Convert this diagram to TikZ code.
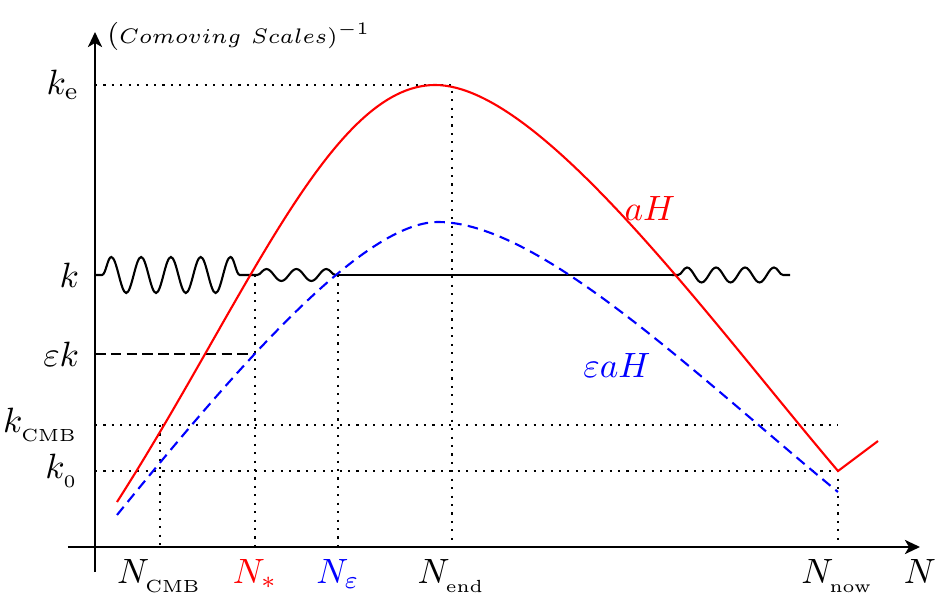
\documentclass[tikz,border=0pt]{standalone}
\usepackage{amsmath}
\usepackage{amssymb}
\usepackage{xcolor}
\usepackage{tikz}
\usetikzlibrary{arrows.meta, positioning, calc, decorations.pathmorphing}
\definecolor{horizonred}{RGB}{255, 0, 0}
\definecolor{horizonblue}{RGB}{0, 0, 255}
\tikzstyle{axis} = [thick, -{Stealth[length=1.5mm, width=1.4mm, inset=0.4mm]}]
\tikzstyle{guide} = [semithick, dash pattern=on 0.6pt off 1.8pt]
\tikzstyle{hubble} = [semithick, horizonred]
\tikzstyle{epshubble} = [semithick, horizonblue, dash pattern=on 3pt off 1.8pt]
\tikzstyle{mode} = [semithick]
\tikzstyle{wave} = [semithick, decorate]

\begin{document}
\begin{tikzpicture}
    \useasboundingbox (-0.95, -0.45) rectangle (8.41, 5.47);

    % Key levels and times
    \coordinate (ke) at (0, 4.62);
    \coordinate (kk) at (0, 2.72);
    \coordinate (ek) at (0, 1.93);
    \coordinate (kcmb) at (0, 1.22);
    \coordinate (kzero) at (0, 0.76);
    \coordinate (ncmb) at (0.65, 0);
    \coordinate (nstar) at (1.60, 0);
    \coordinate (neps) at (2.43, 0);
    \coordinate (nend) at (3.57, 0);
    \coordinate (nnow) at (7.43, 0);

    % Guide lines
    \draw[guide] (ke) -- (nend |- ke) -- (nend);
    \draw[guide] (kcmb) -- (nnow |- kcmb);
    \draw[guide] (kzero) -- (nnow |- kzero) -- (nnow);
    \draw[guide] (ncmb |- kcmb) -- (ncmb);
    \draw[guide] (nstar |- kk) -- (nstar);
    \draw[guide] (neps |- kk) -- (neps);
    \draw[mode, dash pattern=on 3pt off 1.5pt] (ek) -- (nstar |- ek);

    % Mode k: oscillating, frozen, re-entering
    \draw[wave, decoration={snake, amplitude=0.18cm, segment length=0.298cm, pre length=0.07cm}] (kk) -- (1.57, 2.72);
    \draw[wave, decoration={snake, amplitude=0.06cm, segment length=0.30cm, pre length=0.05cm}] (1.57, 2.72) -- (2.43, 2.72);
    \draw[mode] (2.43, 2.72) -- (5.77, 2.72);
    \draw[wave, decoration={snake, amplitude=0.075cm, segment length=0.29cm, pre length=0.06cm}] (5.77, 2.72) -- (6.95, 2.72);

    % Comoving Hubble radius
    \draw[hubble] (0.22, 0.45) .. controls (1.50, 2.45) and (2.35, 4.62) .. (3.40, 4.62)
        .. controls (4.45, 4.62) and (6.13, 2.29) .. (7.43, 0.76) -- (7.83, 1.06);
    \node[horizonred] (ahlabel) at (5.55, 3.39) {$aH$};

    \draw[epshubble] (0.22, 0.32) .. controls (1.32, 1.67) and (2.65, 3.25) .. (3.43, 3.25)
        .. controls (4.45, 3.25) and (6.03, 1.70) .. (7.43, 0.55);
    \node[horizonblue] (eahlabel) at (5.22, 1.82) {$\varepsilon aH$};

    % Axes
    \draw[axis] (-0.27, 0) -- (8.25, 0) coordinate (xtip);
    \draw[axis] (0, -0.25) -- (0, 5.15) coordinate (ytip);
    \node[right, font=\footnotesize, yshift=-1.3pt] (ylabel) at (ytip) {$(\scriptstyle Comoving\ Scales)^{-1}$};
    \node[below] (xlabel) at (xtip) {$N$};

    % Level labels
    \node[left=1pt] (kelabel) at (ke) {$k_{\mathrm{e}}$};
    \node[left=1pt] (klabel) at (kk) {$k$};
    \node[left=1pt] (eklabel) at (ek) {$\varepsilon k$};
    \node[left=1pt] (kcmblabel) at (kcmb) {$k_{_{\mathrm{CMB}}}$};
    \node[left=1pt] (kzerolabel) at (kzero) {$k_{_0}$};

    % Time labels
    \node[below] (ncmblabel) at (ncmb) {$N_{_{\mathrm{CMB}}}$};
    \node[below, horizonred] (nstarlabel) at (nstar) {$N_{*}$};
    \node[below, horizonblue] (nepslabel) at (neps) {$N_{\varepsilon}$};
    \node[below] (nendlabel) at (nend) {$N_{_{\mathrm{end}}}$};
    \node[below] (nnowlabel) at (nnow) {$N_{_{\mathrm{now}}}$};
\end{tikzpicture}
\end{document}
